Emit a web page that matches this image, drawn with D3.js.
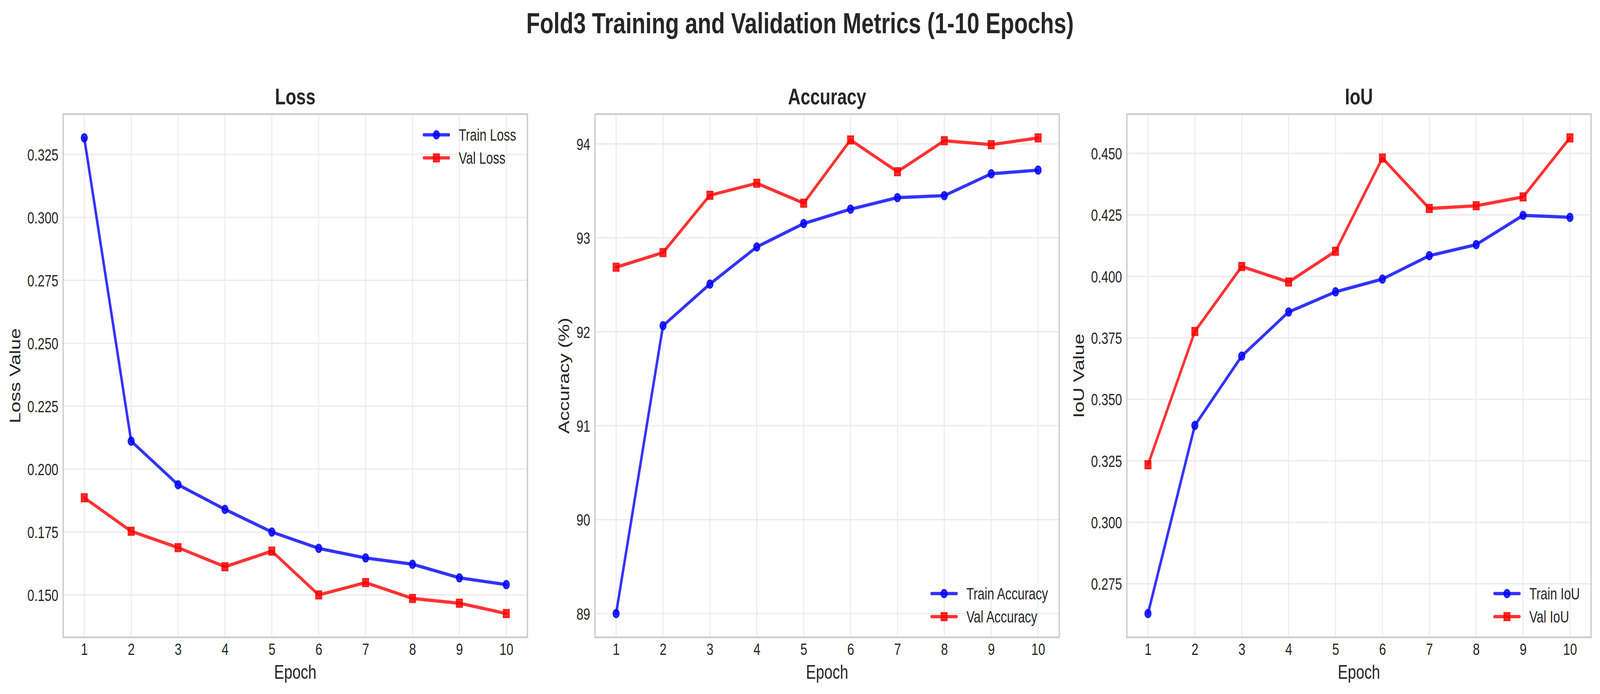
<!DOCTYPE html>
<html>
<head>
<meta charset="utf-8">
<script src="https://cdn.jsdelivr.net/npm/d3@7/dist/d3.min.js"></script>
<style>
  html, body { margin: 0; padding: 0; background: #ffffff; overflow: hidden; width: 100%; height: 100%; }
  svg { display: block; width: 100vw; height: 100vh; }
  text { font-family: "Liberation Sans", Arial, "DejaVu Sans", sans-serif; fill: #262626; }
</style>
</head>
<body>
<svg id="chart" viewBox="0 0 5370 1776" preserveAspectRatio="none"></svg>
<script>
// ---------------- data ----------------
const epochs = [1, 2, 3, 4, 5, 6, 7, 8, 9, 10];

const trainLoss = [0.3316, 0.2111, 0.1938, 0.1840, 0.1750, 0.1685, 0.1647, 0.1622, 0.1568, 0.1541];
const valLoss   = [0.1886, 0.1753, 0.1688, 0.1612, 0.1674, 0.1500, 0.1549, 0.1486, 0.1467, 0.1426];

const trainAcc = [89.00, 92.064, 92.508, 92.903, 93.152, 93.305, 93.428, 93.449, 93.682, 93.721];
const valAcc   = [92.687, 92.843, 93.453, 93.581, 93.369, 94.042, 93.704, 94.034, 93.992, 94.064];

const trainIoU = [0.2629, 0.3394, 0.3676, 0.3855, 0.3937, 0.3989, 0.4084, 0.4129, 0.4248, 0.4240];
const valIoU   = [0.3234, 0.3776, 0.4040, 0.3977, 0.4102, 0.4481, 0.4276, 0.4287, 0.4323, 0.4563];

const lossTicks = [0.150, 0.175, 0.200, 0.225, 0.250, 0.275, 0.300, 0.325];
const accTicks  = [89, 90, 91, 92, 93, 94];
const iouTicks  = [0.275, 0.300, 0.325, 0.350, 0.375, 0.400, 0.425, 0.450];

const suptitle = "Fold3 Training and Validation Metrics (1-10 Epochs)";

const panels = [
  { title: "Loss", ylabel: "Loss Value", train: trainLoss, val: valLoss,
    trainName: "Train Loss", valName: "Val Loss", ticks: lossTicks, fmt: d3.format(".3f"), legend: "upper" },
  { title: "Accuracy", ylabel: "Accuracy (%)", train: trainAcc, val: valAcc,
    trainName: "Train Accuracy", valName: "Val Accuracy", ticks: accTicks, fmt: d3.format("d"), legend: "lower" },
  { title: "IoU", ylabel: "IoU Value", train: trainIoU, val: valIoU,
    trainName: "Train IoU", valName: "Val IoU", ticks: iouTicks, fmt: d3.format(".3f"), legend: "lower" }
];

// ---------------- layout / style ----------------
const lefts = [212, 1997, 3782];
const plotW = 1558;
const plotTop = 292, plotBottom = 1631;
const BLUE = "rgba(0,0,255,0.8)";
const RED = "rgba(255,0,0,0.8)";
const LW = 8.33;
const tickFont = 41.67, labelFont = 50, titleFont = 58.3, supFont = 75;

const svg = d3.select("#chart");
svg.append("rect").attr("width", 5370).attr("height", 1776).attr("fill", "#ffffff");

svg.append("text")
  .attr("x", 2685).attr("y", 85)
  .attr("text-anchor", "middle")
  .attr("font-size", supFont).attr("font-weight", "bold")
  .text(suptitle);

panels.forEach((p, i) => {
  const L = lefts[i], R = L + plotW;
  const x = d3.scaleLinear().domain([0.55, 10.45]).range([L, R]);
  const all = p.train.concat(p.val);
  const mn = d3.min(all), mx = d3.max(all), pad = (mx - mn) * 0.05;
  const y = d3.scaleLinear().domain([mn - pad, mx + pad]).range([plotBottom, plotTop]);

  const g = svg.append("g");

  // grid
  g.append("g").selectAll("line").data(epochs).join("line")
    .attr("x1", d => x(d)).attr("x2", d => x(d))
    .attr("y1", plotTop).attr("y2", plotBottom)
    .attr("stroke", "#ebebeb").attr("stroke-width", 3.3);
  g.append("g").selectAll("line").data(p.ticks).join("line")
    .attr("x1", L).attr("x2", R)
    .attr("y1", d => y(d)).attr("y2", d => y(d))
    .attr("stroke", "#ebebeb").attr("stroke-width", 3.3);

  // axes via d3 (ticks hidden, labels restyled)
  const xAxis = g.append("g").attr("transform", `translate(0,${plotBottom})`)
    .call(d3.axisBottom(x).tickValues(epochs).tickFormat(d3.format("d")).tickSize(0).tickPadding(0));
  xAxis.select(".domain").remove();
  xAxis.selectAll("text")
    .attr("dy", null).attr("y", 45)
    .attr("font-size", tickFont)
    .style("font-family", "'Liberation Sans', Arial, sans-serif")
    .attr("fill", "#262626");

  const yAxis = g.append("g").attr("transform", `translate(${L},0)`)
    .call(d3.axisLeft(y).tickValues(p.ticks).tickFormat(p.fmt).tickSize(0).tickPadding(0));
  yAxis.select(".domain").remove();
  yAxis.selectAll("text")
    .attr("dy", null).attr("x", -16).attr("y", 15)
    .attr("font-size", tickFont)
    .style("font-family", "'Liberation Sans', Arial, sans-serif")
    .attr("fill", "#262626");

  // measure tick label widths for ylabel position
  let maxW = 0;
  yAxis.selectAll("text").each(function () { maxW = Math.max(maxW, this.getComputedTextLength()); });
  const ylabX = L - 16 - maxW - 24;

  // spines
  g.append("rect")
    .attr("x", L).attr("y", plotTop).attr("width", plotW).attr("height", plotBottom - plotTop)
    .attr("fill", "none").attr("stroke", "#cccccc").attr("stroke-width", 4.5);

  // lines + markers
  const line = d3.line().x((d, j) => x(epochs[j])).y(d => y(d));
  g.append("path").datum(p.train).attr("d", line)
    .attr("fill", "none").attr("stroke", BLUE).attr("stroke-width", LW)
    .attr("stroke-linejoin", "round").attr("stroke-linecap", "round");
  g.append("g").selectAll("circle").data(p.train).join("circle")
    .attr("cx", (d, j) => x(epochs[j])).attr("cy", d => y(d)).attr("r", 10)
    .attr("fill", BLUE).attr("stroke", BLUE).attr("stroke-width", 4);

  g.append("path").datum(p.val).attr("d", line)
    .attr("fill", "none").attr("stroke", RED).attr("stroke-width", LW)
    .attr("stroke-linejoin", "round").attr("stroke-linecap", "round");
  const sq = 19.5;
  g.append("g").selectAll("rect").data(p.val).join("rect")
    .attr("x", (d, j) => x(epochs[j]) - sq / 2).attr("y", d => y(d) - sq / 2)
    .attr("width", sq).attr("height", sq)
    .attr("fill", RED).attr("stroke", RED).attr("stroke-width", 4);

  // titles
  g.append("text")
    .attr("x", (L + R) / 2).attr("y", plotTop - 25)
    .attr("text-anchor", "middle")
    .attr("font-size", titleFont).attr("font-weight", "bold")
    .text(p.title);
  g.append("text")
    .attr("x", (L + R) / 2).attr("y", 1737)
    .attr("text-anchor", "middle")
    .attr("font-size", labelFont)
    .text("Epoch");
  g.append("text")
    .attr("transform", `translate(${ylabX},${(plotTop + plotBottom) / 2}) rotate(-90)`)
    .attr("text-anchor", "middle")
    .attr("font-size", labelFont)
    .text(p.ylabel);

  // legend
  const items = [
    { name: p.trainName, color: BLUE, shape: "circle" },
    { name: p.valName, color: RED, shape: "square" }
  ];
  const lg = g.append("g");
  const texts = lg.selectAll("text").data(items).join("text")
    .attr("font-size", tickFont).text(d => d.name);
  let tw = 0;
  texts.each(function () { tw = Math.max(tw, this.getComputedTextLength()); });
  const textLeft = R - 37.5 - tw;
  const hEnd = textLeft - 33.3, hStart = hEnd - 83.3, hMid = (hStart + hEnd) / 2;
  const rows = p.legend === "upper" ? [plotTop + 53, plotTop + 112] : [plotBottom - 112, plotBottom - 53];
  texts.attr("x", textLeft).attr("y", (d, k) => rows[k] + 15);
  items.forEach((it, k) => {
    const cy = rows[k];
    lg.append("line").attr("x1", hStart).attr("x2", hEnd).attr("y1", cy).attr("y2", cy)
      .attr("stroke", it.color).attr("stroke-width", LW).attr("stroke-linecap", "round");
    if (it.shape === "circle") {
      lg.append("circle").attr("cx", hMid).attr("cy", cy).attr("r", 10)
        .attr("fill", it.color).attr("stroke", it.color).attr("stroke-width", 4);
    } else {
      lg.append("rect").attr("x", hMid - sq / 2).attr("y", cy - sq / 2).attr("width", sq).attr("height", sq)
        .attr("fill", it.color).attr("stroke", it.color).attr("stroke-width", 4);
    }
  });
});
</script>
</body>
</html>
